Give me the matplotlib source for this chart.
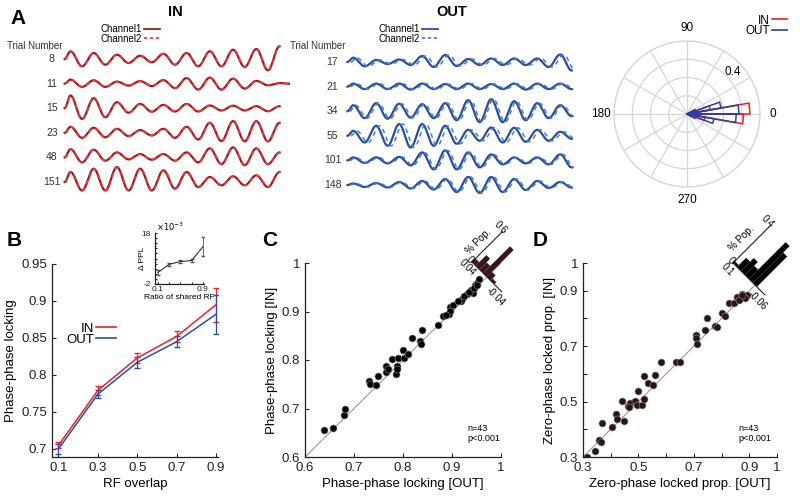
import numpy as np
import matplotlib
matplotlib.use('Agg')
import matplotlib.pyplot as plt
from matplotlib.lines import Line2D
from matplotlib.patches import Rectangle
from matplotlib.transforms import Affine2D

plt.rcParams['font.family'] = ['Liberation Sans', 'DejaVu Sans']
plt.rcParams['axes.linewidth'] = 0.9

# ---------- data ----------
# panel A: example traces, amplitude of successive half-cycle extrema
in_trials = ['8', '11', '15', '23', '48', '151']
amp_in_8 = [0.77, 0.73, 0.6, 0.57, 0.43, 0.4, 0.33, 0.33, 0.53, 0.57, 0.6, 0.73, 0.77, 0.73, 0.93, 0.8, 1.0, 1.13, 1.27]
amp_in_11 = [0.4, 0.33, 0.33, 0.33, 0.2, 0.2, 0.25, 0.25, 0.35, 0.45, 0.55, 0.6, 0.6, 0.6, 0.5, 0.5, 0.27, 0.17, 0.05, 0.03]
amp_in_15 = [1.27, 1.07, 1.0, 0.9, 0.6, 0.45, 0.43, 0.35, 0.33, 0.33, 0.43, 0.33, 0.27, 0.23, 0.25, 0.23, 0.2, 0.3, 0.2]
amp_in_23 = [0.6, 0.5, 0.5, 0.45, 0.4, 0.33, 0.27, 0.27, 0.4, 0.5, 0.6, 0.67, 1.0, 0.83, 1.17, 0.85, 1.17, 0.85, 1.0]
amp_in_48 = [0.83, 0.5, 0.77, 0.33, 0.5, 0.2, 0.33, 0.23, 0.33, 0.33, 0.5, 0.5, 0.9, 0.67, 1.0, 0.77, 0.9, 0.67, 0.5]
amp_in_151 = [1.0, 0.85, 1.33, 0.85, 1.5, 0.85, 1.33, 0.85, 1.17, 0.67, 1.0, 0.5, 0.5, 0.33, 0.57, 0.33, 0.67, 0.5, 1.0]
lag_in = [0.03, 0.03, 0.02, 0.03, 0.03, 0.04]

out_trials = ['17', '21', '34', '55', '101', '148']
amp_out_17 = [0.43, 0.43, 0.2, 0.2, 0.25, 0.3, 0.6, 0.5, 0.7, 0.4, 0.3, 0.3, 0.35, 0.3, 0.35, 0.3, 0.35, 0.5, 0.75, 0.85]
amp_out_21 = [0.3, 0.25, 0.3, 0.25, 0.3, 0.3, 0.3, 0.25, 0.25, 0.25, 0.3, 0.25, 0.25, 0.25, 0.3, 0.3, 0.3, 0.25, 0.3, 0.25]
amp_out_34 = [0.6, 0.7, 0.8, 0.75, 0.75, 0.65, 0.7, 0.7, 0.8, 0.9, 1.1, 1.1, 1.2, 1.1, 1.0, 0.9, 0.8, 0.7, 0.6, 0.5]
amp_out_55 = [0.5, 0.67, 1.0, 1.0, 1.17, 1.17, 1.17, 1.0, 1.0, 0.8, 0.6, 0.5, 0.83, 0.67, 0.8, 0.6, 0.6, 0.5, 0.4, 0.3]
amp_out_101 = [0.3, 0.25, 0.3, 0.3, 0.35, 0.5, 0.8, 0.9, 1.0, 0.9, 0.8, 0.7, 0.6, 0.4, 0.3, 0.3, 0.3, 0.4, 0.6, 0.7]
amp_out_148 = [0.15, 0.2, 0.2, 0.25, 0.3, 0.35, 0.4, 0.45, 0.6, 0.7, 0.8, 0.8, 0.8, 0.7, 0.6, 0.5, 0.4, 0.3, 0.3, 0.25]
lag_out = [0.3, 0.25, 0.2, 0.3, 0.2, 0.2]

# panel A: phase distribution (rose), bin edges in degrees
rose_edges = [-30, -20, -10, 0, 10, 20, 30]
rose_in = [0.05, 0.10, 0.31, 0.345, 0.13, 0.03]
rose_out = [0.03, 0.15, 0.27, 0.285, 0.19, 0.05]

# panel B
overlap = [0.1, 0.3, 0.5, 0.7, 0.9]
ppl_in = [0.705, 0.779, 0.823, 0.852, 0.895]
ppl_in_err = [0.004, 0.006, 0.007, 0.008, 0.023]
ppl_out = [0.700, 0.774, 0.817, 0.845, 0.882]
ppl_out_err = [0.007, 0.005, 0.007, 0.007, 0.026]
ratio_rf = [0.1, 0.3, 0.5, 0.7, 0.9]
dppl = [2.5, 5.7, 6.8, 7.2, 12.6]  # x 1e-3
dppl_err = [0.9, 0.6, 0.6, 0.6, 3.8]

# panel C
c_out = [0.638, 0.658, 0.679, 0.681, 0.731, 0.733, 0.745, 0.748, 0.765, 0.765, 0.778, 0.786, 0.787,
         0.788, 0.790, 0.799, 0.802, 0.811, 0.818, 0.834, 0.836, 0.839, 0.871, 0.882, 0.894, 0.896,
         0.896, 0.903, 0.918, 0.920, 0.930, 0.939, 0.942, 0.946, 0.951, 0.956, 0.913, 0.925, 0.935,
         0.944, 0.952, 0.888, 0.770]
c_in = [0.656, 0.660, 0.686, 0.700, 0.756, 0.750, 0.748, 0.766, 0.776, 0.787, 0.803, 0.772, 0.788,
        0.782, 0.805, 0.821, 0.805, 0.812, 0.845, 0.839, 0.832, 0.861, 0.872, 0.890, 0.894, 0.909,
        0.902, 0.914, 0.922, 0.926, 0.937, 0.945, 0.938, 0.954, 0.959, 0.966, 0.921, 0.931, 0.941,
        0.948, 0.955, 0.893, 0.781]
c_hist_lo = [0.03, 0.02, 0.01, 0.0, -0.01, -0.02]
c_hist_frac = [0.07, 0.21, 0.14, 0.53, 0.10, 0.04]

# panel D
d_out = [0.314, 0.345, 0.357, 0.364, 0.370, 0.405, 0.418, 0.423, 0.449, 0.442, 0.462, 0.468, 0.488,
         0.495, 0.498, 0.512, 0.520, 0.519, 0.533, 0.554, 0.561, 0.583, 0.635, 0.651, 0.707, 0.709,
         0.712, 0.742, 0.749, 0.778, 0.784, 0.802, 0.811, 0.826, 0.844, 0.854, 0.873, 0.881, 0.892,
         0.883, 0.863, 0.875, 0.467]
d_in = [0.300, 0.323, 0.360, 0.353, 0.423, 0.410, 0.455, 0.437, 0.430, 0.502, 0.484, 0.494, 0.501,
        0.489, 0.538, 0.489, 0.509, 0.591, 0.566, 0.558, 0.596, 0.641, 0.643, 0.641, 0.741, 0.730,
        0.706, 0.759, 0.801, 0.774, 0.770, 0.819, 0.807, 0.856, 0.856, 0.877, 0.889, 0.880, 0.886,
        0.875, 0.868, 0.884, 0.480]
d_hist_lo = [0.08, 0.06, 0.04, 0.02, 0.0, -0.02, -0.04]
d_hist_frac = [0.02, 0.10, 0.14, 0.10, 0.40, 0.33, 0.0]

red = '#e8202a'
blue = '#2b4ea2'
dark = '#231f20'


def trace(amps, lag):
    # smooth curve through the extrema
    kx = np.concatenate([[0.0], np.arange(len(amps)) + 0.5]) + lag
    sign = np.where(np.arange(len(amps)) % 2 == 0, 1.0, -1.0)
    ky = np.concatenate([[0.0], np.array(amps) * sign])
    x = np.linspace(kx[0], kx[-1], 800)
    i = np.clip(np.searchsorted(kx, x, side='right') - 1, 0, len(kx) - 2)
    t = (x - kx[i]) / (kx[i + 1] - kx[i])
    y = ky[i] + (ky[i + 1] - ky[i]) * (1 - np.cos(np.pi * t)) / 2
    return x, y


fig = plt.figure(figsize=(8, 5), dpi=100)

def px(x, y):
    return x / 800, 1 - y / 500

# ---------- panel A traces ----------
panels = [
    (in_trials, [amp_in_8, amp_in_11, amp_in_15, amp_in_23, amp_in_48, amp_in_151], lag_in,
     '#9c1c20', '#ee3a40', [60 / 800, 0.6, 230 / 800, 0.32], (-0.4, 19.4), (-14.1, 1.9), -1.1, 'IN', 175, 130, 35),
    (out_trials, [amp_out_17, amp_out_21, amp_out_34, amp_out_55, amp_out_101, amp_out_148], lag_out,
     '#2c4d9e', '#3f80c6', [344 / 800, 0.6, 230 / 800, 0.32], (-0.3, 19.7), (-13.8, 2.2), -1.3, 'OUT', 452, 408, 318),
]
for trials, amps, lags, c1, c2, box, xl, yl, labx, title, tx, lx, tnx in panels:
    ax = fig.add_axes(box)
    for row, (name, a, lag) in enumerate(zip(trials, amps, lags)):
        off = -row * 2.46
        x, y = trace(a, 0.0)
        ax.plot(x, y + off, color=c1, lw=1.6)
        x2, y2 = trace(a, lag)
        ax.plot(x2, y2 + off, color=c2, lw=1.1, ls=(0, (3, 2.5)))
        ax.text(labx, off, name, ha='center', va='center', fontsize=7.5, color='#333333')
    ax.set_xlim(*xl)
    ax.set_ylim(*yl)
    ax.axis('off')
    fig.text(*px(tx, 12), title, ha='center', va='center', fontsize=10.5, fontweight='bold')
    fig.text(*px(tnx, 46), 'Trial Number', ha='center', va='center', fontsize=7, color='#333333')
    hs = [Line2D([], [], color=c1, lw=1.3), Line2D([], [], color=c2, lw=1.2, ls=(0, (2, 1.5)))]
    fig.legend(hs, ['Channel1', 'Channel2'], loc='center', bbox_to_anchor=px(lx, 34), markerfirst=False,
               frameon=False, fontsize=7, handlelength=1.6, handletextpad=0.3, labelspacing=-0.1,
               borderpad=0.1)

# ---------- panel A rose ----------
axp = fig.add_axes([614 / 800, 1 - 187 / 500, 146 / 800, 146 / 500], projection='polar')
for vals, col in [(rose_in, '#ee1c25'), (rose_out, '#2e3e9e')]:
    for lo, hi, r in zip(rose_edges[:-1], rose_edges[1:], vals):
        th = np.deg2rad([lo, lo, hi, hi])
        axp.plot(th, [0, r, r, 0], color=col, lw=1.1)
axp.set_ylim(0, 0.4)
axp.set_rgrids([0.1, 0.2, 0.3, 0.4], labels=['', '', '', ''])
axp.set_thetagrids(range(0, 360, 30), labels=['0', '', '', '90', '', '', '180', '', '', '270', '', ''],
                   fontsize=8.5)
axp.tick_params(axis='x', pad=-1)
axp.grid(color='#d6d6d6', lw=0.9)
axp.spines['polar'].set_color('#d6d6d6')
axp.text(np.deg2rad(43), 0.34, '0.4', fontsize=8.5, ha='center', va='center')
hs = [Line2D([], [], color='#ee1c25', lw=1.2), Line2D([], [], color='#2e3e9e', lw=1.2)]
fig.legend(hs, ['IN', 'OUT'], loc='center', bbox_to_anchor=px(766, 26), markerfirst=False, frameon=False,
           fontsize=8.5, handlelength=1.2, handletextpad=0.2, labelspacing=-0.1, borderpad=0.1)


def style(ax):
    for s in ['top', 'right']:
        ax.spines[s].set_visible(False)
    for s in ['left', 'bottom']:
        ax.spines[s].set_color(dark)
    ax.tick_params(direction='in', length=3, labelsize=9.5, colors=dark, width=0.8)


# ---------- panel B ----------
axb = fig.add_axes([52 / 800, 43 / 500, 166 / 800, 193 / 500])
axb.errorbar(overlap, ppl_in, yerr=ppl_in_err, color=red, lw=1.1, capsize=2.2, elinewidth=0.9)
axb.errorbar(overlap, ppl_out, yerr=ppl_out_err, color=blue, lw=1.1, capsize=2.2, elinewidth=0.9)
axb.set_xlim(0.067, 0.91)
axb.set_ylim(0.689, 0.95)
axb.set_xticks(overlap, ['0.1', '0.3', '0.5', '0.7', '0.9'])
axb.set_yticks([0.7, 0.75, 0.8, 0.85, 0.9, 0.95], ['0.7', '0.75', '0.8', '0.85', '0.9', '0.95'])
axb.set_xlabel('RF overlap', fontsize=9.5, labelpad=3)
axb.set_ylabel('Phase-phase locking', fontsize=9.5, labelpad=3)
style(axb)
hs = [Line2D([], [], color=red, lw=1.2), Line2D([], [], color=blue, lw=1.2)]
fig.legend(hs, ['IN', 'OUT'], loc='center', bbox_to_anchor=px(91, 334), markerfirst=False, frameon=False,
           fontsize=9.5, handlelength=1.5, handletextpad=0.2, labelspacing=-0.1, borderpad=0.1)

axi = fig.add_axes([155 / 800, 216 / 500, 49 / 800, 51 / 500])
axi.errorbar(ratio_rf, dppl, yerr=dppl_err, color='#333333', lw=0.8, capsize=1.3, elinewidth=0.6,
             ecolor='#555555')
axi.set_xlim(0.05, 0.92)
axi.set_ylim(-2, 18)
axi.set_xticks(ratio_rf, ['0.1', '', '', '', '0.9'])
axi.set_yticks(range(-2, 19, 2), ['-2'] + [''] * 9 + ['18'])
style(axi)
axi.tick_params(labelsize=6, length=1.5)
axi.tick_params(axis='x', pad=1.5)
axi.tick_params(axis='y', pad=3)
axi.set_xlabel('Ratio of shared RF', fontsize=6, labelpad=1)
axi.set_ylabel('Δ PPL', fontsize=6, labelpad=-3)
axi.text(0.02, 1.0, r'$\times10^{-3}$', transform=axi.transAxes, fontsize=6, va='bottom', ha='left')


# ---------- rotated histogram helper ----------
def rot_tr(ox, oy, d0, d1, base_len, pmax, count_len):
    ku = base_len / 100 / (d0 - d1)
    kv = count_len / 100 / pmax
    r = 1 / np.sqrt(2)
    oxi, oyi = ox / 100, (500 - oy) / 100
    m = np.array([[-ku * r, kv * r, oxi + d0 * ku * r],
                  [ku * r, kv * r, oyi - d0 * ku * r],
                  [0, 0, 1]])
    return Affine2D(m) + fig.dpi_scale_trans


def rot_hist(ox, oy, d0, d1, base_len, pmax, count_len, lows, fracs, width, color, labels):
    tr = rot_tr(ox, oy, d0, d1, base_len, pmax, count_len)
    for lo, f in zip(lows, fracs):
        if f > 0:
            fig.add_artist(Rectangle((lo, 0), width, f, transform=tr, color=color, lw=0))
    fig.add_artist(Line2D([d0, d1], [0, 0], transform=tr, color=dark, lw=0.8))
    fig.add_artist(Line2D([d0, d0], [0, pmax], transform=tr, color=dark, lw=0.8))
    span = d0 - d1
    fs = 7
    fig.text(d0 + span * 0.07, 0.0, '0', transform=tr, rotation=-45, fontsize=fs, ha='center', va='center')
    fig.text(d0 - span * 0.02, -pmax * 0.16, labels[0], transform=tr, rotation=-45, fontsize=fs,
             ha='center', va='center')
    fig.text(d1 + span * 0.02, -pmax * 0.19, labels[1], transform=tr, rotation=-45, fontsize=fs,
             ha='center', va='center')
    fig.text(d0 + span * 0.11, pmax * 1.03, labels[2], transform=tr, rotation=-45, fontsize=fs,
             ha='center', va='center')
    fig.text(d0 + span * 0.24, pmax * 0.45, '% Pop.', transform=tr, rotation=45, fontsize=fs,
             ha='center', va='center')


# ---------- panel C ----------
axc = fig.add_axes([305 / 800, 43 / 500, 196 / 800, 194 / 500])
axc.plot([0.6, 1], [0.6, 1], color='#9a9a9a', lw=0.8, zorder=1)
axc.scatter(c_out, c_in, s=26, color='black', edgecolors='#9a9a9a', linewidths=0.4, zorder=2)
axc.set_xlim(0.6, 1)
axc.set_ylim(0.6, 1)
axc.set_xticks([0.6, 0.7, 0.8, 0.9, 1], ['0.6', '0.7', '0.8', '0.9', '1'])
axc.set_yticks([0.6, 0.7, 0.8, 0.9, 1], ['0.6', '0.7', '0.8', '0.9', '1'])
axc.set_xlabel('Phase-phase locking [OUT]', fontsize=9.5, labelpad=3)
axc.set_ylabel('Phase-phase locking [IN]', fontsize=9.5, labelpad=3)
style(axc)
axc.text(0.83, 0.12, 'n=43\np<0.001', transform=axc.transAxes, fontsize=6.5, va='center', ha='left',
         linespacing=1.1)
rot_hist(472, 262, 0.04, -0.04, 42, 0.6, 43, c_hist_lo, c_hist_frac, 0.01, '#3a1618',
         ['0.04', '-0.04', '0.6'])

# ---------- panel D ----------
axd = fig.add_axes([583 / 800, 43 / 500, 194 / 800, 194 / 500])
axd.plot([0.3, 1], [0.3, 1], color='#9a9a9a', lw=0.8, zorder=1)
axd.scatter(d_out, d_in, s=26, color='#2a1414', edgecolors='#9a9a9a', linewidths=0.4, zorder=2)
axd.set_xlim(0.3, 1)
axd.set_ylim(0.3, 1)
ticks = [0.3, 0.4, 0.5, 0.6, 0.7, 0.8, 0.9, 1.0]
tlab = ['0.3', '', '0.5', '', '0.7', '', '0.9', '1']
axd.set_xticks(ticks, tlab)
axd.set_yticks(ticks, tlab)
axd.set_xlabel('Zero-phase locked prop. [OUT]', fontsize=9.5, labelpad=3)
axd.set_ylabel('Zero-phase locked prop. [IN]', fontsize=9.5, labelpad=3)
style(axd)
axd.text(0.8, 0.12, 'n=43\np<0.001', transform=axd.transAxes, fontsize=6.5, va='center', ha='left',
         linespacing=1.1)
rot_hist(733, 263, 0.1, -0.06, 45, 0.4, 52, d_hist_lo, d_hist_frac, 0.02, 'black',
         ['0.1', '-0.06', '0.4'])

# panel letters
for letter, x, y in [('A', 18, 18), ('B', 14, 240), ('C', 270, 240), ('D', 540, 240)]:
    fig.text(*px(x, y), letter, fontsize=15, fontweight='bold', ha='center', va='center')

fig.savefig('out.png', dpi=100)
